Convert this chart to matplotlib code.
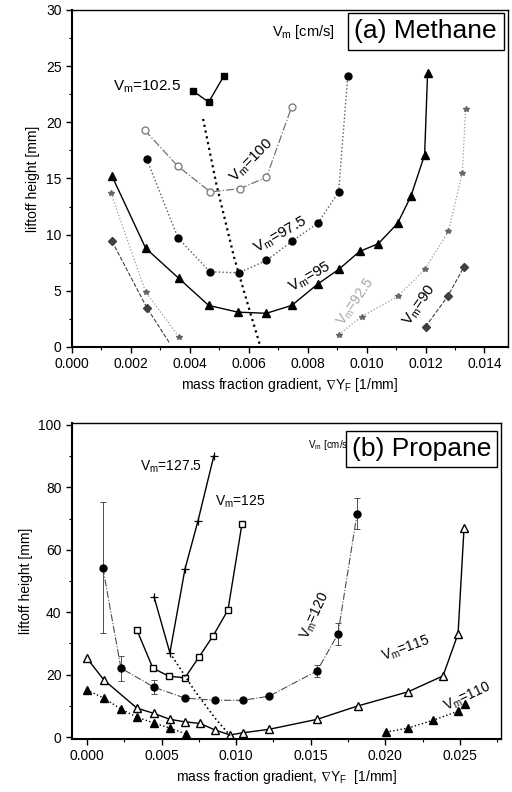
import matplotlib
matplotlib.use("Agg")
import matplotlib.pyplot as plt
from matplotlib.ticker import MultipleLocator, FormatStrFormatter

plt.rcParams['font.family'] = ['Liberation Sans', 'DejaVu Sans']
plt.rcParams['mathtext.fontset'] = 'custom'
plt.rcParams['mathtext.rm'] = 'Liberation Sans'
plt.rcParams['mathtext.it'] = 'Liberation Sans:italic'
plt.rcParams['mathtext.fallback'] = 'stixsans'

# ---- (a) Methane ----
m1025_x = [0.00410, 0.00464, 0.00515]
m1025_y = [22.8, 21.8, 24.1]
m100_x = [0.00247, 0.00359, 0.00470, 0.00570, 0.00660, 0.00746]
m100_y = [19.3, 16.1, 13.8, 14.1, 15.1, 21.4]
m975_x = [0.00254, 0.00360, 0.00468, 0.00566, 0.00660, 0.00746, 0.00834, 0.00905, 0.00936]
m975_y = [16.7, 9.7, 6.7, 6.6, 7.7, 9.4, 11.0, 13.8, 24.1]
m95_x = [0.00136, 0.00250, 0.00363, 0.00464, 0.00563, 0.00660, 0.00746, 0.00834, 0.00905,
         0.00976, 0.01040, 0.01105, 0.01150, 0.01197, 0.01207]
m95_y = [15.2, 8.8, 6.1, 3.7, 3.1, 3.0, 3.7, 5.6, 6.9, 8.5, 9.2, 11.0, 13.4, 17.1, 24.4]
m925_left_x = [0.00132, 0.00250, 0.00363]
m925_left_y = [13.7, 4.9, 0.9]
m925_right_x = [0.00905, 0.00983, 0.01105, 0.01197, 0.01278, 0.01325, 0.01336]
m925_right_y = [1.1, 2.7, 4.5, 6.9, 10.3, 15.5, 21.2]
m90_left_x = [0.00136, 0.00254, 0.00330]
m90_left_y = [9.4, 3.5, 0.4]
m90_right_x = [0.01200, 0.01275, 0.01330]
m90_right_y = [1.8, 4.5, 7.1]
m_locus_x = [0.00445, 0.00490, 0.00550, 0.00600, 0.00640]
m_locus_y = [20.3, 14.5, 8.0, 3.5, 0.0]

# ---- (b) Propane ----
p1275_x = [0.00450, 0.00556, 0.00657, 0.00744, 0.00850]
p1275_y = [44.9, 27.0, 53.8, 69.2, 90.0]
p125_x = [0.00335, 0.00442, 0.00550, 0.00657, 0.00750, 0.00845, 0.00945, 0.01039]
p125_y = [34.3, 22.1, 19.5, 19.0, 25.6, 32.4, 40.7, 68.3]
p120_x = [0.00107, 0.00228, 0.00449, 0.00657, 0.00858, 0.01046, 0.01220, 0.01542, 0.01682, 0.01810]
p120_y = [54.2, 22.1, 16.0, 12.5, 11.8, 11.8, 13.1, 21.2, 33.0, 71.5]
p120_err = [21.0, 4.0, 2.2, 0, 0, 0, 0, 2.0, 3.4, 5.0]
p115_x = [0.0, 0.00114, 0.00335, 0.00449, 0.00556, 0.00657, 0.00757, 0.00858, 0.00958,
          0.01046, 0.01220, 0.01542, 0.01816, 0.02151, 0.02386, 0.02487, 0.02527]
p115_y = [25.3, 18.3, 9.3, 7.6, 5.7, 4.9, 4.4, 2.3, 0.7, 1.4, 2.5, 5.7, 10.0, 14.5, 19.6, 33.1, 67.0]
p110_left_x = [0.0, 0.00114, 0.00228, 0.00335, 0.00449, 0.00556, 0.00664]
p110_left_y = [15.1, 12.5, 9.0, 6.4, 4.5, 2.9, 1.0]
p110_right_x = [0.02004, 0.02151, 0.02319, 0.02487, 0.02533]
p110_right_y = [1.6, 2.9, 5.4, 8.3, 10.6]
p_locus_x = [0.00556, 0.00720, 0.00860, 0.00960]
p_locus_y = [27.0, 15.0, 6.0, 0.5]

fig = plt.figure(figsize=(5.12, 7.92), dpi=100)
ax1 = fig.add_axes([0.1406, 0.5619, 0.8516, 0.4255])
ax2 = fig.add_axes([0.1406, 0.0669, 0.8380, 0.3990])

# methane
ax1.plot(m1025_x, m1025_y, '-', color='k', lw=1.0, marker='s', ms=5)
ax1.plot(m100_x, m100_y, '-.', color='0.45', lw=0.9, marker='o', ms=5, mfc='white', mec='0.5')
ax1.plot(m975_x, m975_y, ':', color='0.35', lw=1.0, marker='o', ms=5, mfc='k', mec='k')
ax1.plot(m95_x, m95_y, '-', color='k', lw=1.0, marker='^', ms=6)
for xs, ys in [(m925_left_x, m925_left_y), (m925_right_x, m925_right_y)]:
    ax1.plot(xs, ys, ':', color='0.6', lw=0.9, marker='*', ms=4, mfc='0.4', mec='0.4')
ax1.plot(m90_left_x, m90_left_y, '--', color='0.25', lw=0.8, marker='D', ms=4.5, markevery=[0, 1])
ax1.plot(m90_right_x, m90_right_y, '--', color='0.25', lw=0.8, marker='D', ms=4.5)
ax1.plot(m_locus_x, m_locus_y, ':', color='k', lw=1.6)

ax1.text(0.0014, 23.2, r'V$_\mathrm{m}$=102.5', fontsize=11, va='center')
ax1.text(0.0061, 16.6, r'V$_\mathrm{m}$=100', fontsize=11, rotation=45, ha='center', va='center')
ax1.text(0.0071, 10.0, r'V$_\mathrm{m}$=97.5', fontsize=11, rotation=30, ha='center', va='center')
ax1.text(0.0081, 6.2, r'V$_\mathrm{m}$=95', fontsize=11, rotation=30, ha='center', va='center')
ax1.text(0.00965, 4.0, r'V$_\mathrm{m}$=92.5', fontsize=10, rotation=55, ha='center', va='center', color='0.65')
ax1.text(0.0118, 3.7, r'V$_\mathrm{m}$=90', fontsize=11, rotation=55, ha='center', va='center')
ax1.text(0.0068, 28.0, r'V$_\mathrm{m}$ [cm/s]', fontsize=10.5, va='center')
ax1.text(0.01201, 28.1, '(a) Methane', fontsize=19, ha='center', va='center',
         bbox=dict(boxstyle='square,pad=0.25', fc='white', ec='k', lw=1.0))

ax1.set_xlim(0, 0.0148)
ax1.set_ylim(0, 30)
ax1.xaxis.set_major_locator(MultipleLocator(0.002))
ax1.xaxis.set_minor_locator(MultipleLocator(0.001))
ax1.xaxis.set_major_formatter(FormatStrFormatter('%.3f'))
ax1.yaxis.set_major_locator(MultipleLocator(5))
ax1.yaxis.set_minor_locator(MultipleLocator(2.5))
ax1.set_xlabel(r'mass fraction gradient, $\nabla$Y$_\mathrm{F}$ [1/mm]', fontsize=10, labelpad=3)
ax1.set_ylabel('liftoff height [mm]', fontsize=10, labelpad=4)

# propane
ax2.plot(p1275_x, p1275_y, '-', color='k', lw=1.0, marker='+', ms=6, mew=0.9)
ax2.plot(p125_x, p125_y, '-', color='k', lw=1.0, marker='s', ms=5, mfc='white', mec='k')
ax2.errorbar(p120_x, p120_y, yerr=p120_err, fmt='o', color='k', ms=5, ecolor='0.3',
             elinewidth=0.7, capsize=2.5, capthick=0.7)
ax2.plot(p120_x, p120_y, '-.', color='0.3', lw=0.8)
ax2.plot(p115_x, p115_y, '-', color='k', lw=1.0, marker='^', ms=6, mfc='white', mec='k')
ax2.plot(p110_left_x, p110_left_y, ':', color='k', lw=1.0, marker='^', ms=6)
ax2.plot(p110_right_x, p110_right_y, ':', color='k', lw=1.0, marker='^', ms=6)
ax2.plot(p_locus_x, p_locus_y, ':', color='k', lw=1.2)

ax2.text(0.00355, 86.5, r'V$_\mathrm{m}$=127.5', fontsize=10, va='center')
ax2.text(0.0086, 75.5, r'V$_\mathrm{m}$=$\mathit{125}$', fontsize=10, va='center')
ax2.text(0.0153, 39.0, r'V$_\mathrm{m}$=120', fontsize=10, rotation=65, ha='center', va='center')
ax2.text(0.0214, 28.2, r'V$_\mathrm{m}$=115', fontsize=10, rotation=20, ha='center', va='center')
ax2.text(0.0255, 12.8, r'V$_\mathrm{m}$=110', fontsize=10, rotation=25, ha='center', va='center')
ax2.text(0.0148, 93.6, r'V$_\mathrm{m}$ [cm/s]', fontsize=7, va='center')
ax2.text(0.02245, 92.3, '(b) Propane', fontsize=19, ha='center', va='center',
         bbox=dict(boxstyle='square,pad=0.22', fc='white', ec='k', lw=1.0))

ax2.set_xlim(-0.001, 0.02775)
ax2.set_ylim(-0.6, 100.6)
ax2.xaxis.set_major_locator(MultipleLocator(0.005))
ax2.xaxis.set_minor_locator(MultipleLocator(0.0025))
ax2.xaxis.set_major_formatter(FormatStrFormatter('%.3f'))
ax2.yaxis.set_major_locator(MultipleLocator(20))
ax2.yaxis.set_minor_locator(MultipleLocator(10))
ax2.set_xlabel(r'mass fraction gradient, $\nabla$Y$_\mathrm{F}$  [1/mm]', fontsize=10, labelpad=3)
ax2.set_ylabel('liftoff height [mm]', fontsize=10, labelpad=4)

for ax in (ax1, ax2):
    ax.tick_params(which='major', direction='out', length=4, width=1.0, labelsize=10)
    ax.tick_params(which='minor', direction='out', length=2.5, width=0.8)
    ax.tick_params(top=False, right=False)
    for s in ax.spines.values():
        s.set_linewidth(1.0)
    ax.spines['left'].set_linewidth(1.5)
    ax.spines['bottom'].set_linewidth(1.5)

fig.savefig('out.png', dpi=100)
